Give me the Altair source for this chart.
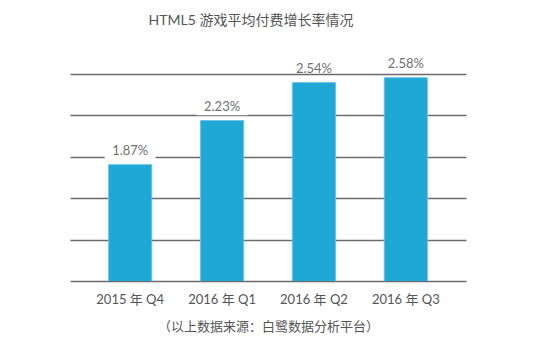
import altair as alt
import pandas as pd

categories = ["2015 年 Q4", "2016 年 Q1", "2016 年 Q2", "2016 年 Q3"]
values = [1.87, 2.23, 2.54, 2.58]
labels = ["1.87%", "2.23%", "2.54%", "2.58%"]
y_domain = [0.92, 2.61]
grid_values = [0.92, 1.258, 1.596, 1.934, 2.272, 2.61]

df = pd.DataFrame({"cat": categories, "val": values, "lab": labels})

FONT = "Lato, Noto Sans CJK SC, sans-serif"

x = alt.X("cat:N", sort=categories,
          scale=alt.Scale(paddingInner=0.53, paddingOuter=0.42),
          axis=alt.Axis(title="（以上数据来源：白鹭数据分析平台）", labelAngle=0, domain=False,
                        ticks=False, labelPadding=12, labelFontSize=13, labelColor="#555",
                        labelFont=FONT, titleFont=FONT, titleFontSize=13, titleColor="#555",
                        titleFontWeight="normal", titlePadding=14))
y = alt.Y("val:Q", scale=alt.Scale(domain=y_domain, zero=False, nice=False),
          axis=alt.Axis(title=None, labels=False, ticks=False, domain=False,
                        values=grid_values, grid=True, gridColor="#6b6b6b", gridWidth=1.6))

base = alt.Chart(df)

bars = base.mark_bar(color="#1fa7d6", stroke="#6cc4e6", strokeWidth=1, clip=True).encode(x=x, y=y)

# white backdrop behind labels that sit inside the grid (lower bars)
bg = base.transform_filter(alt.datum.val < 2.4).mark_point(
    shape="M-1,-0.3H1V0.3H-1Z", filled=True, fill="white", opacity=1,
    size=2600, yOffset=-13, strokeWidth=0).encode(x=x, y=y)

text = base.mark_text(baseline="bottom", dy=-7, fontSize=13, color="#707070", font=FONT).encode(
    x=x, y=y, text="lab:N")

chart = alt.layer(bars, bg, text).properties(
    width=396, height=207,
    title=alt.TitleParams("HTML5 游戏平均付费增长率情况", fontSize=14, font=FONT, color="#555",
                          fontWeight="normal", offset=30, dx=-17),
    autosize=alt.AutoSizeParams(type="none"),
    padding={"left": 62, "top": 66, "right": 84, "bottom": 70},
).configure_view(stroke=None)

chart.save("out.html", embed_options={"renderer": "svg", "actions": False})
